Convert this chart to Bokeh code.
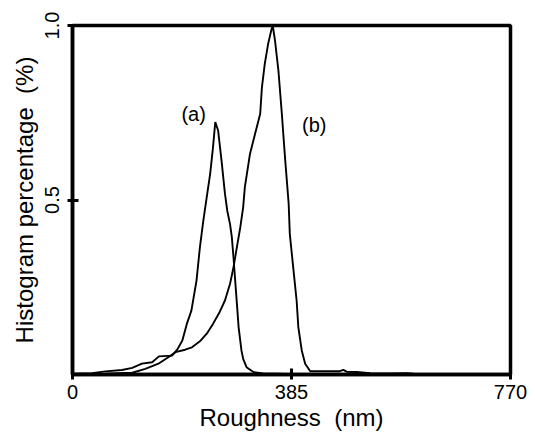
from bokeh.plotting import figure
from bokeh.models import Range1d, FixedTicker, Label
from bokeh.embed import file_html
from bokeh.resources import INLINE

# Curve (a)
a_x = [0, 34, 58, 87, 105, 122, 140, 152, 175, 184, 193, 201, 209, 218, 224, 230,
       236, 242, 247, 251, 256, 262, 268, 272, 277, 280, 283, 286, 289, 292, 297,
       300, 306, 318, 335, 360, 385]
a_y = [0.002, 0.004, 0.009, 0.013, 0.019, 0.031, 0.035, 0.052, 0.054, 0.071, 0.097,
       0.145, 0.183, 0.269, 0.365, 0.441, 0.508, 0.575, 0.651, 0.723, 0.699, 0.613,
       0.518, 0.47, 0.43, 0.395, 0.336, 0.269, 0.203, 0.136, 0.069, 0.045, 0.021,
       0.007, 0.003, 0.002, 0.001]

# Curve (b)
b_x = [0, 58, 105, 128, 151, 169, 181, 198, 210, 224, 236, 247, 259, 268, 277, 283,
       289, 295, 300, 303, 312, 321, 330, 333, 338, 344, 350, 352, 356, 362, 368,
       374, 380, 382, 388, 394, 397, 403, 409, 418, 440, 470, 476, 482, 500, 523,
       560, 587, 600, 675, 720, 770]
b_y = [0.0, 0.002, 0.005, 0.016, 0.031, 0.05, 0.064, 0.071, 0.078, 0.095, 0.117,
       0.145, 0.18, 0.212, 0.26, 0.307, 0.365, 0.422, 0.479, 0.537, 0.632, 0.69,
       0.747, 0.823, 0.89, 0.948, 0.99, 1.0, 0.957, 0.871, 0.747, 0.613, 0.49,
       0.403, 0.307, 0.212, 0.136, 0.069, 0.031, 0.0095, 0.0095, 0.0095, 0.013,
       0.008, 0.007, 0.004, 0.003, 0.004, 0.002, 0.001, 0.0005, 0.0]

x_ticks = [0, 385, 770]
y_ticks = [0.5, 1.0]
y_tick_labels = {0.5: "0.5", 1.0: "1.0"}
x_title = "Roughness \u00a0(nm)"
y_title = "Histogram percentage \u00a0(%)"
curve_labels = ["(a)", "(b)"]
label_pos = [(213, 0.745), (425, 0.716)]

FONT = "Liberation Sans"

p = figure(width=535, height=435, output_backend="svg", toolbar_location=None,
           x_range=Range1d(0, 770), y_range=Range1d(0, 1.0))
p.min_border_left = 72
p.min_border_right = 25
p.min_border_top = 25
p.min_border_bottom = 61
p.grid.visible = False
p.outline_line_color = "black"
p.outline_line_width = 3.5
p.background_fill_color = "white"
p.border_fill_color = "white"

p.line(a_x, a_y, line_color="black", line_width=1.9)
p.line(b_x, b_y, line_color="black", line_width=1.9)

for txt, (lx, ly) in zip(curve_labels, label_pos):
    p.add_layout(Label(x=lx, y=ly, text=txt, text_font=FONT, text_font_size="20px",
                       text_align="center", text_baseline="middle", text_color="black"))

xa = p.xaxis[0]
xa.ticker = FixedTicker(ticks=x_ticks)
xa.axis_label = x_title
ya = p.yaxis[0]
ya.ticker = FixedTicker(ticks=y_ticks)
ya.major_label_overrides = y_tick_labels
ya.axis_label = y_title
ya.major_label_orientation = "vertical"

for ax in (xa, ya):
    ax.axis_line_width = 3.5
    ax.axis_line_color = "black"
    ax.major_tick_line_width = 3
    ax.major_tick_line_color = "black"
    ax.major_tick_in = 6
    ax.major_tick_out = 5
    ax.minor_tick_line_color = None
    ax.major_label_text_font = FONT
    ax.major_label_text_font_size = "20px"
    ax.major_label_text_color = "black"
    ax.axis_label_text_font = FONT
    ax.axis_label_text_font_style = "normal"
    ax.axis_label_text_color = "black"
    ax.axis_label_standoff = 2

xa.major_label_standoff = 5
xa.axis_label_text_font_size = "24px"
ya.major_label_standoff = 9
ya.axis_label_text_font_size = "24px"
ya.axis_label_standoff = 4

open("out.html", "w").write(file_html(p, INLINE))
